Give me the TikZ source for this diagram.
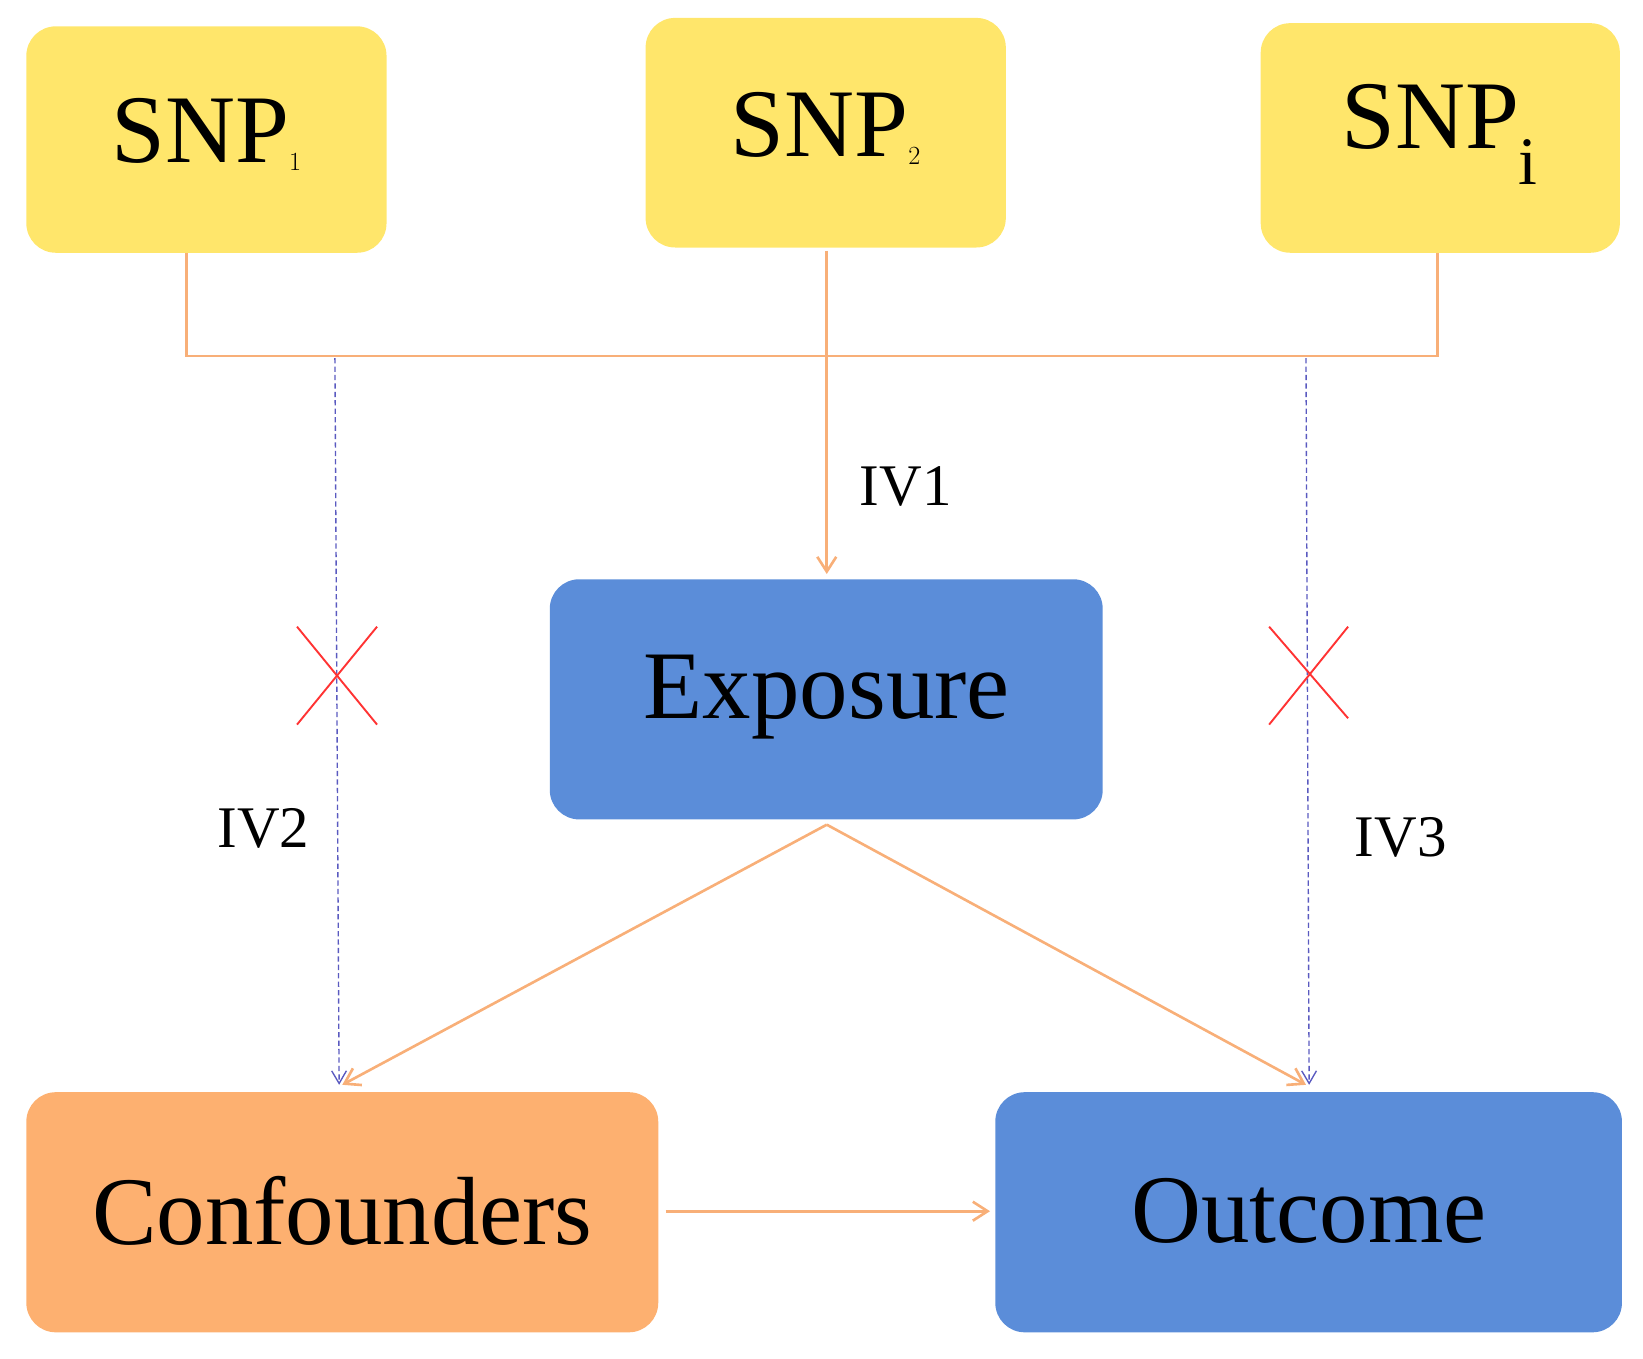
\documentclass[tikz,border=0pt]{standalone}
\usepackage{fontspec}
\setmainfont{Liberation Serif}
\usetikzlibrary{arrows.meta}
\definecolor{snpy}{HTML}{FFE66B}
\definecolor{blu}{HTML}{5B8DD9}
\definecolor{org}{HTML}{FDB070}
\definecolor{lin}{HTML}{F8AF78}
\definecolor{dsh}{HTML}{5A5AC0}
\begin{document}
\begin{tikzpicture}[x=1pt,y=-1pt,
 box/.style={rounded corners=28pt,draw=none,inner sep=0pt},
 big/.style={font=\fontsize{92}{100}\selectfont},
 iv/.style={font=\fontsize{56}{60}\selectfont},
 ol/.style={draw=lin,line width=2.5pt},
 arr/.style={-{Straight Barb[length=14pt,width=18pt]}},
 dl/.style={draw=dsh,line width=1.3pt,dash pattern=on 5pt off 3pt,-{Straight Barb[length=12pt,width=14pt]}},
 rx/.style={draw=red!80,line width=1.8pt}]
\useasboundingbox (0,0) rectangle (1560,1290);
\fill[snpy,rounded corners=28pt] (25,25) rectangle (367,240);
\fill[snpy,rounded corners=28pt] (613,17) rectangle (955,235);
\fill[snpy,rounded corners=28pt] (1197,22) rectangle (1538,240);
\fill[blu,rounded corners=28pt] (522,550) rectangle (1047,778);
\fill[org,rounded corners=28pt] (25,1037) rectangle (625,1265);
\fill[blu,rounded corners=28pt] (945,1037) rectangle (1540,1265);
\node[big] (s1) at (196,128) {SNP$_1$};
\node[big] (s2) at (784,122) {SNP$_2$};
\node[big] (si) at (1367,128) {SNP$_{\mathrm{i}}$};
\node[big] (ex) at (785,662) {Exposure};
\node[big] (cf) at (325,1150) {Confounders};
\node[big] (oc) at (1243,1150) {Outcome};
\node[iv] (iv1) at (860,462) {IV1};
\node[iv] (iv2) at (250,787) {IV2};
\node[iv] (iv3) at (1330,795) {IV3};
\coordinate (a1) at (177,240); \coordinate (a2) at (177,338);
\coordinate (b1) at (1365,240); \coordinate (b2) at (1365,338);
\coordinate (c1) at (785,238); \coordinate (c2) at (785,545);
\draw[ol] (a1) -- (a2) -- (b2) -- (b1);
\draw[ol,arr] (c1) -- (c2);
\coordinate (exb) at (785,783);
\coordinate (cft) at (325,1030);
\coordinate (oct) at (1240,1030);
\draw[ol,arr] (exb) -- (cft);
\draw[ol,arr] (exb) -- (oct);
\coordinate (cfr) at (632,1150); \coordinate (ocl) at (940,1150);
\draw[ol,arr] (cfr) -- (ocl);
\coordinate (d1) at (318,340); \coordinate (d2) at (322,1030);
\coordinate (e1) at (1240,340); \coordinate (e2) at (1243,1030);
\draw[dl] (d1) -- (d2);
\draw[dl] (e1) -- (e2);
\draw[rx] (282,595) -- (358,688); \draw[rx] (358,595) -- (282,688);
\draw[rx] (1205,595) -- (1280,682); \draw[rx] (1280,595) -- (1205,688);
\end{tikzpicture}
\end{document}
